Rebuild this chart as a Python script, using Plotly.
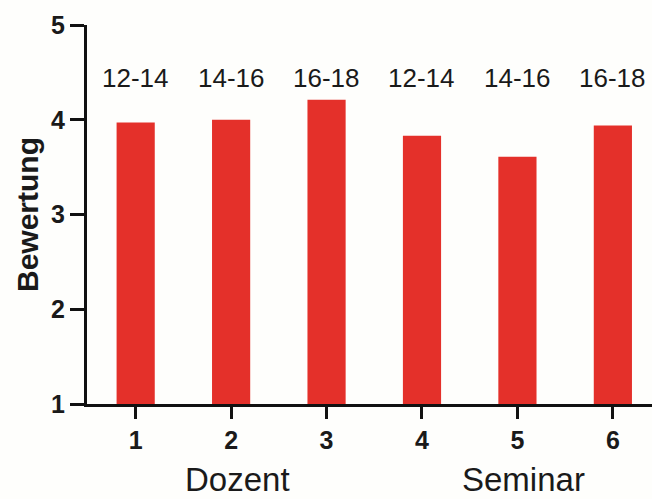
import plotly.graph_objects as go

positions = [1, 2, 3, 4, 5, 6]
values = [3.97, 4.00, 4.21, 3.83, 3.61, 3.94]
time_labels = ["12-14", "14-16", "16-18", "12-14", "14-16", "16-18"]
group_labels = ["Dozent", "Seminar"]
group_positions = [2, 5]
y_ticks = [1, 2, 3, 4, 5]

FONT = "Liberation Sans, Arial, sans-serif"

fig = go.Figure()
fig.add_trace(go.Bar(
    x=positions, y=[v - 1 for v in values], base=1, width=0.4,
    marker=dict(color="#e4302a", line=dict(width=0)),
    hovertext=[str(v) for v in values],
))

annotations = []
for x, t in zip(positions, time_labels):
    annotations.append(dict(x=x, y=4.44, xref="x", yref="y", text=t, showarrow=False,
                            font=dict(family=FONT, size=26, color="#1a1a1a"),
                            xanchor="center", yanchor="middle"))
for x, t in zip(group_positions, group_labels):
    annotations.append(dict(x=x, y=-0.2, xref="x", yref="paper", text=t, showarrow=False,
                            font=dict(family=FONT, size=33, color="#1a1a1a"),
                            xanchor="center", yanchor="middle", xshift=6))

fig.update_layout(
    width=652, height=499,
    margin=dict(l=87, r=0, t=25, b=95),
    paper_bgcolor="#fefefc", plot_bgcolor="#fefefc",
    showlegend=False,
    annotations=annotations,
    xaxis=dict(range=[0.49, 6.41], tickvals=positions, ticktext=[str(p) for p in positions],
               showgrid=False, zeroline=False, showline=True, linecolor="#111", linewidth=3,
               ticks="outside", ticklen=12, tickwidth=3, tickcolor="#111",
               tickfont=dict(family=FONT, size=25, color="#1a1a1a", weight="bold")),
    yaxis=dict(range=[1, 5], tickvals=y_ticks, showgrid=False, zeroline=False,
               showline=True, linecolor="#111", linewidth=3,
               ticks="outside", ticklen=14, tickwidth=3, tickcolor="#111",
               tickfont=dict(family=FONT, size=25, color="#1a1a1a", weight="bold"),
               title=dict(text="Bewertung", standoff=4,
                          font=dict(family=FONT, size=30, color="#1a1a1a", weight="bold"))),
)

fig.write_html("out.html", config={"displayModeBar": False},
               post_script="document.body.style.margin='0';document.body.style.overflow='hidden';")
